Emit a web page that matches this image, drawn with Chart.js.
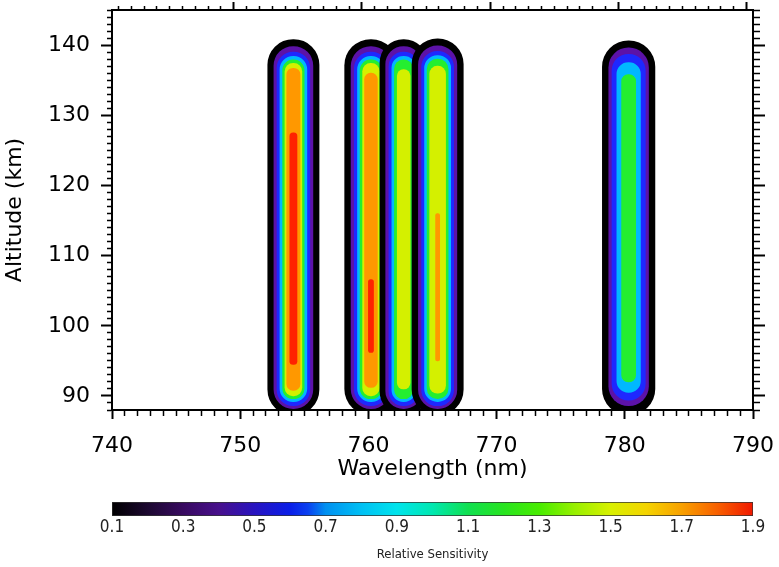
<!DOCTYPE html>
<html>
<head>
<meta charset="utf-8">
<title>Relative Sensitivity</title>
<script src="https://cdn.jsdelivr.net/npm/chart.js@4.4.1/dist/chart.umd.min.js"></script>
<style>
  body { margin: 0; background: #fff; }
  #wrap { position: relative; width: 779px; height: 567px; }
  #main { position: absolute; left: 0; top: 0; }
  #bar { position: absolute; left: 0; top: 490px; }
</style>
</head>
<body>
<div id="wrap">
  <canvas id="main" width="779" height="490"></canvas>
  <canvas id="bar" width="779" height="77"></canvas>
</div>
<script>
// Emission line centres (nm)
const lineCenters = [754.15, 760.2, 762.75, 765.4, 780.3];

// Contour levels of relative sensitivity
const contourLevels = [0.1, 0.35, 0.6, 0.85, 1.1, 1.35, 1.6, 1.85];

// Half width (nm) of each contour for each line, null = level not reached
const halfWidths = [
    [2.0, 1.52, 1.28, 1.05, 0.84, 0.66, 0.52, 0.28],
    [2.05, 1.55, 1.3, 1.05, 0.85, 0.65, 0.5, 0.2],
    [1.85, 1.4, 1.15, 0.92, 0.72, 0.5, null, null],
    [2.0, 1.5, 1.25, 1.02, 0.82, 0.62, 0.16, null],
    [2.05, 1.55, 1.3, 0.92, 0.55, null, null, null]
];

// Upper and lower altitude (km) of each contour
const contourTops = [
    [140.8, 139.8, 139.0, 138.4, 137.9, 137.4, 136.7, 127.5],
    [140.8, 139.8, 139.0, 138.4, 137.9, 137.4, 136.0, 106.6],
    [140.8, 139.8, 139.0, 138.4, 137.9, 136.5, null, null],
    [140.9, 139.9, 139.1, 138.5, 138.0, 137.0, 116.0, null],
    [140.6, 139.6, 138.7, 137.5, 135.8, null, null, null]
];
const contourBottoms = [
    [87.3, 88.2, 88.6, 89.2, 89.6, 90.0, 90.8, 94.5],
    [87.3, 88.2, 88.6, 89.2, 89.6, 90.0, 91.2, 96.2],
    [87.3, 88.2, 88.6, 89.2, 89.6, 91.0, null, null],
    [87.3, 88.2, 88.6, 89.2, 89.6, 90.4, 95.0, null],
    [87.3, 88.6, 89.4, 90.5, 92.0, null, null, null]
];

// Colour bar
const cbTicks = [0.1, 0.3, 0.5, 0.7, 0.9, 1.1, 1.3, 1.5, 1.7, 1.9];
const cbValues = [0.1, 0.2, 0.3, 0.4, 0.5, 0.6, 0.65, 0.7, 0.8, 0.9, 1.0, 1.1, 1.2, 1.3, 1.4, 1.5, 1.6, 1.7, 1.8, 1.9];
const cbColors = ['#000000', '#1c0830', '#380a60', '#48108c', '#2814c0', '#0a1ee8', '#0a40f0', '#0090f0',
    '#00c0f4', '#00e4ec', '#00e8b0', '#10e050', '#28e420', '#48ec00', '#98f000', '#d8f000',
    '#f4d400', '#f8a000', '#f86000', '#f01800'];

// Fill colour for each contour level
const levelColors = ['#000000', '#5c12a8', '#1e28ff', '#00b8ff', '#24ee30', '#d4f000', '#ff9800', '#ff2200'];

const FONT = "'DejaVu Sans', sans-serif";
const NARROW = "'DejaVu Sans Condensed', 'DejaVu Sans', sans-serif";

// Build one floating bar per line and contour level
const datasets = [];
lineCenters.forEach(function (center, i) {
    contourLevels.forEach(function (level, j) {
        if (halfWidths[i][j] == null) return;
        datasets.push({
            label: center + ' nm / ' + level,
            line: i,
            level: j,
            data: [{ x: center, y: [contourBottoms[i][j], contourTops[i][j]] }],
            backgroundColor: levelColors[j],
            borderWidth: 0,
            borderSkipped: false,
            borderRadius: 999,
            grouped: false,
            clip: 0,
            order: -(i * 10 + j)
        });
    });
});

// Bar widths follow the wavelength scale
const ringWidths = {
    id: 'ringWidths',
    afterLayout(chart) {
        const x = chart.scales.x;
        chart.data.datasets.forEach(function (ds) {
            const c = lineCenters[ds.line];
            const hw = halfWidths[ds.line][ds.level];
            ds.barThickness = x.getPixelForValue(c + hw) - x.getPixelForValue(c - hw);
        });
    }
};

function everyUnit(scale) {
    scale.ticks = [];
    for (let v = scale.min; v <= scale.max; v++) scale.ticks.push({ value: v });
}

function isMajor(ctx) {
    return ctx.tick && ctx.tick.value % 10 === 0;
}

// grid tick marks: long for majors, short for minors
function tickGrid(len, minorLen, fromAxis) {
    return {
        display: true,
        drawOnChartArea: false,
        drawTicks: true,
        tickLength: len,
        color: '#000',
        tickWidth: function (ctx) { return isMajor(ctx) ? 2 : 1.5; },
        tickBorderDash: function (ctx) {
            if (isMajor(ctx)) return [];
            return fromAxis ? [minorLen, 100] : [0, len - minorLen, minorLen, 100];
        }
    };
}

const labelTicks = {
    autoSkip: false,
    maxRotation: 0,
    color: '#000',
    font: { family: FONT, size: 22 },
    callback: function (v) { return v % 10 === 0 ? v : ''; }
};

new Chart(document.getElementById('main'), {
    type: 'bar',
    data: { datasets: datasets },
    options: {
        responsive: false,
        animation: false,
        devicePixelRatio: 1,
        layout: { padding: 0 },
        plugins: { legend: { display: false }, tooltip: { enabled: false } },
        scales: {
            x: {
                type: 'linear', position: 'bottom', min: 740, max: 790, offset: false,
                grid: Object.assign(tickGrid(9, 5, true), { offset: false }),
                border: { display: true, color: '#000', width: 2 },
                afterBuildTicks: everyUnit,
                ticks: Object.assign({ padding: 14 }, labelTicks),
                title: { display: true, text: 'Wavelength (nm)', color: '#000', font: { family: FONT, size: 22 }, padding: { top: 0, bottom: 8 } },
                afterFit: function (s) { s.height = 80; s.paddingLeft = 0; s.paddingRight = 0; }
            },
            y: {
                type: 'linear', position: 'left', min: 88, max: 145,
                grid: tickGrid(11, 5, false),
                border: { display: true, color: '#000', width: 2 },
                afterBuildTicks: everyUnit,
                ticks: Object.assign({ padding: 11 }, labelTicks),
                title: { display: true, text: 'Altitude (km)', color: '#000', font: { family: FONT, size: 22 }, padding: { top: 2, bottom: 0 } },
                afterFit: function (s) { s.width = 112; s.paddingTop = 0; s.paddingBottom = 0; }
            },
            x2: {
                type: 'linear', position: 'top', min: 740, max: 790, offset: false,
                grid: tickGrid(8, 4, false),
                border: { display: true, color: '#000', width: 2 },
                afterBuildTicks: everyUnit,
                ticks: { display: false },
                afterFit: function (s) { s.height = 10; }
            },
            y2: {
                type: 'linear', position: 'right', min: 88, max: 145,
                grid: tickGrid(12, 6, true),
                border: { display: true, color: '#000', width: 2 },
                afterBuildTicks: everyUnit,
                ticks: { display: false },
                afterFit: function (s) { s.width = 26; }
            }
        }
    },
    plugins: [ringWidths]
});

// Colour bar below the plot
function colorbarGradient(chart) {
    const area = chart.chartArea;
    if (!area || !isFinite(area.left) || !isFinite(area.right)) return cbColors[0];
    const g = chart.ctx.createLinearGradient(area.left, 0, area.right, 0);
    const v0 = cbValues[0];
    const v1 = cbValues[cbValues.length - 1];
    cbValues.forEach(function (v, i) {
        g.addColorStop((v - v0) / (v1 - v0), cbColors[i]);
    });
    return g;
}

new Chart(document.getElementById('bar'), {
    type: 'bar',
    data: {
        labels: ['Relative Sensitivity'],
        datasets: [{
            data: [[cbValues[0], cbValues[cbValues.length - 1]]],
            backgroundColor: function (ctx) { return colorbarGradient(ctx.chart); },
            borderColor: '#333',
            borderWidth: 1,
            borderSkipped: false,
            barPercentage: 1,
            categoryPercentage: 1
        }]
    },
    options: {
        indexAxis: 'y',
        responsive: false,
        animation: false,
        devicePixelRatio: 1,
        layout: { padding: { top: 12, left: 112, right: 26, bottom: 0 } },
        plugins: { legend: { display: false }, tooltip: { enabled: false } },
        scales: {
            y: { display: false },
            x: {
                type: 'linear', min: cbTicks[0], max: cbTicks[cbTicks.length - 1],
                grid: { display: false, drawTicks: false },
                border: { display: false },
                afterBuildTicks: function (s) { s.ticks = cbTicks.map(function (v) { return { value: v }; }); },
                ticks: {
                    autoSkip: false, maxRotation: 0, padding: 1, color: '#222',
                    font: { family: NARROW, size: 17 },
                    callback: function (v) { return Number(v).toFixed(1); }
                },
                title: { display: true, text: 'Relative Sensitivity', color: '#222', font: { family: NARROW, size: 13 }, padding: { top: 0, bottom: 5 } },
                afterFit: function (s) { s.height = 51; }
            }
        }
    }
});
</script>
</body>
</html>
